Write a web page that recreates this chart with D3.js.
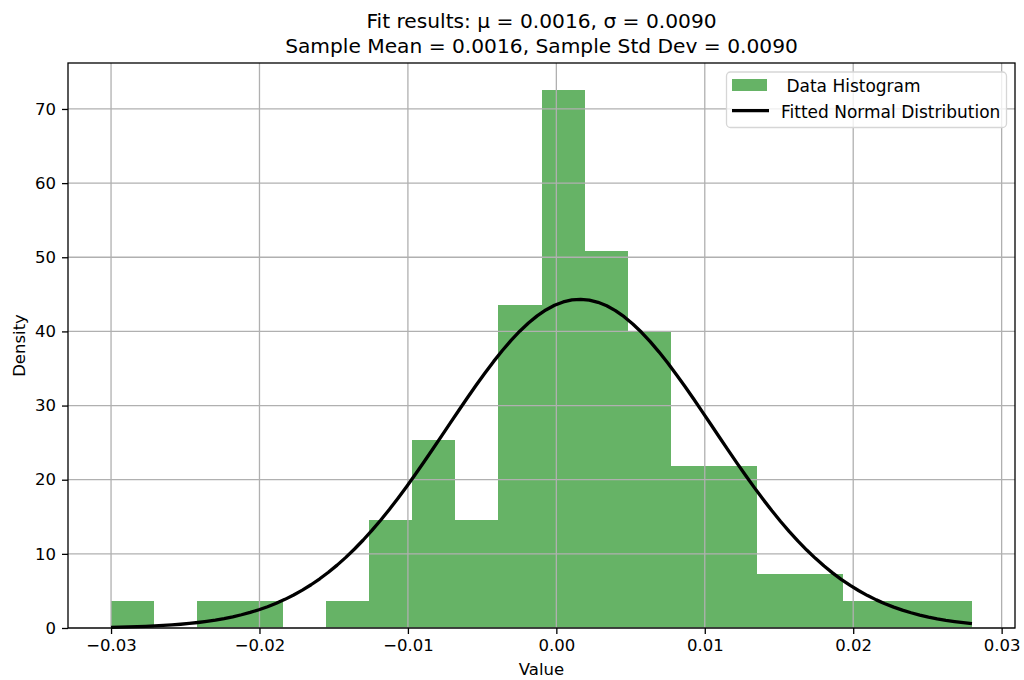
<!DOCTYPE html>
<html>
<head>
<meta charset="utf-8">
<script src="https://cdn.jsdelivr.net/npm/d3@7"></script>
<style>
  html, body { margin: 0; padding: 0; background: #fff; }
  svg { display: block; font-family: "DejaVu Sans", sans-serif; }
  text { white-space: pre; }
</style>
</head>
<body>
<svg id="chart" width="1024" height="680"></svg>
<script>
// ---- data ----
const titleLines = ["Fit results: \u03bc = 0.0016, \u03c3 = 0.0090",
                    "Sample Mean = 0.0016, Sample Std Dev = 0.0090"];
const xLabel = "Value";
const yLabel = "Density";
const legendLabels = [" Data Histogram", "Fitted Normal Distribution"];

const binLow = -0.0300;   // smallest sample
const binHigh = 0.0280;   // largest sample
const binDensities = [3.63, 0, 3.63, 3.63, 0, 3.63, 14.5, 25.4, 14.5, 43.5,
                      72.6, 50.8, 39.9, 21.8, 21.8, 7.26, 7.26, 3.63, 3.63, 3.63];
const fitMu = 0.0016;
const fitSigma = 0.0090;
const curveSamples = 100;

const xTicks = [-0.03, -0.02, -0.01, 0.00, 0.01, 0.02, 0.03];
const yTicks = [0, 10, 20, 30, 40, 50, 60, 70];
const xDomain = [-0.03290, 0.03090];
const yDomain = [0, 76.2];

// ---- layout ----
const L = 68, R = 1015, T = 63, B = 628;
const svg = d3.select("#chart");
const x = d3.scaleLinear().domain(xDomain).range([L, R]);
const y = d3.scaleLinear().domain(yDomain).range([B, T]);

const nb = binDensities.length;
const edges = d3.range(nb + 1).map(i => binLow + (binHigh - binLow) * i / nb);
const bins = binDensities.map((d, i) => ({ x0: edges[i], x1: edges[i + 1], d }));

// bars
svg.append("g").selectAll("rect").data(bins.filter(b => b.d > 0)).join("rect")
  .attr("x", b => x(b.x0))
  .attr("width", b => x(b.x1) - x(b.x0))
  .attr("y", b => y(b.d))
  .attr("height", b => y(0) - y(b.d))
  .attr("fill", "#66b366")
  .attr("shape-rendering", "crispEdges");

// grid (above bars, below line)
const grid = svg.append("g").attr("stroke", "#b0b0b0").attr("stroke-width", 1.3);
grid.selectAll("line.v").data(xTicks).join("line").attr("class", "v")
  .attr("x1", d => x(d)).attr("x2", d => x(d)).attr("y1", T).attr("y2", B);
grid.selectAll("line.h").data(yTicks).join("line").attr("class", "h")
  .attr("x1", L).attr("x2", R).attr("y1", d => y(d)).attr("y2", d => y(d));

// fitted normal curve
const pdf = v => Math.exp(-0.5 * ((v - fitMu) / fitSigma) ** 2) / (fitSigma * Math.sqrt(2 * Math.PI));
const curveX = d3.range(curveSamples).map(i => binLow + (binHigh - binLow) * i / (curveSamples - 1));
svg.append("path")
  .datum(curveX)
  .attr("d", d3.line().x(v => x(v)).y(v => y(pdf(v))))
  .attr("fill", "none").attr("stroke", "#000").attr("stroke-width", 3.3)
  .attr("stroke-linejoin", "round");

// axes
const xAxis = d3.axisBottom(x).tickValues(xTicks).tickFormat(d3.format(".2f")).tickSize(6).tickPadding(5);
const yAxis = d3.axisLeft(y).tickValues(yTicks).tickFormat(d3.format("d")).tickSize(6).tickPadding(6);
const gx = svg.append("g").attr("transform", `translate(0,${B})`).call(xAxis);
const gy = svg.append("g").attr("transform", `translate(${L},0)`).call(yAxis);
[gx, gy].forEach(g => {
  g.select(".domain").remove();
  g.selectAll(".tick line").attr("stroke", "#000").attr("stroke-width", 1.3);
  g.selectAll(".tick text").attr("font-size", 16.5).attr("fill", "#000")
    .attr("font-family", "DejaVu Sans");
});

// frame
svg.append("rect").attr("x", L).attr("y", T).attr("width", R - L).attr("height", B - T)
  .attr("fill", "none").attr("stroke", "#000").attr("stroke-width", 1.3);

// titles
svg.append("g").selectAll("text").data(titleLines).join("text")
  .attr("x", (L + R) / 2).attr("y", (d, i) => 28 + i * 24.5)
  .attr("text-anchor", "middle").attr("font-size", 20.2).text(d => d);

svg.append("text").attr("x", (L + R) / 2).attr("y", 675)
  .attr("text-anchor", "middle").attr("font-size", 16.5).text(xLabel);
svg.append("text").attr("transform", `translate(24.5,${(T + B) / 2}) rotate(-90)`)
  .attr("text-anchor", "middle").attr("font-size", 16.5).text(yLabel);

// legend
const lg = svg.append("g");
lg.append("rect").attr("x", 726.5).attr("y", 72).attr("width", 280).attr("height", 55.5)
  .attr("rx", 4).attr("fill", "#fff").attr("fill-opacity", 0.8)
  .attr("stroke", "#d6d6d6").attr("stroke-width", 1.3);
lg.append("rect").attr("x", 732).attr("y", 79).attr("width", 35).attr("height", 12)
  .attr("fill", "#66b366");
lg.append("line").attr("x1", 732).attr("x2", 769).attr("y1", 110.7).attr("y2", 110.7)
  .attr("stroke", "#000").attr("stroke-width", 3.3);
lg.selectAll("text").data(legendLabels).join("text")
  .attr("x", 781).attr("y", (d, i) => 91.5 + i * 26.7)
  .attr("font-size", 17).attr("fill", "#000").text(d => d);
</script>
</body>
</html>
